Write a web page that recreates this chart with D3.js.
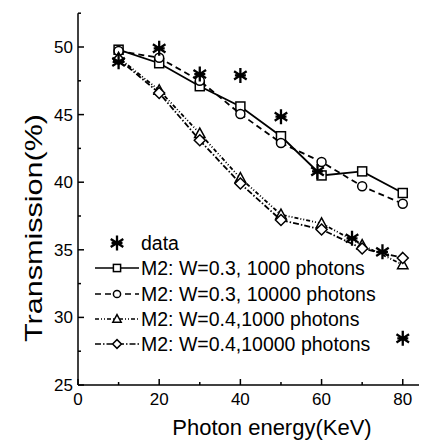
<!DOCTYPE html>
<html>
<head>
<meta charset="utf-8">
<script src="https://cdn.jsdelivr.net/npm/d3@7"></script>
<style>
  html, body { margin: 0; padding: 0; background: #fff; }
  svg { display: block; font-family: "Liberation Sans", Arial, sans-serif; }
</style>
</head>
<body>
<svg id="chart" width="423" height="442"></svg>
<script>
// Photon energies (KeV) for the simulated series
const energies = [10, 20, 30, 40, 50, 60, 70, 80];

// Simulated transmission (%) for each model setting
const w03_1000  = [49.8, 48.8, 47.1, 45.6, 43.4, 40.5, 40.8, 39.2];
const w03_10000 = [49.7, 49.2, 47.5, 45.05, 42.9, 41.5, 39.7, 38.4];
const w04_1000  = [49.2, 46.8, 43.6, 40.3, 37.6, 36.95, 35.35, 33.9];
const w04_10000 = [49.1, 46.6, 43.1, 39.9, 37.2, 36.5, 35.1, 34.4];

// Measured data points
const dataEnergy = [10, 20, 30, 40, 50, 59, 67.5, 75, 80];
const dataTrans  = [48.9, 49.9, 48.0, 47.9, 44.85, 40.8, 35.85, 34.85, 28.45];

// Axis ticks
const xTicks = [0, 20, 40, 60, 80];
const yTicks = [25, 30, 35, 40, 45, 50];

// Legend labels
const labels = [
  "data",
  "M2: W=0.3, 1000 photons",
  "M2: W=0.3, 10000 photons",
  "M2: W=0.4,1000 photons",
  "M2: W=0.4,10000 photons"
];

const svg = d3.select("#chart");
const x = d3.scaleLinear().domain([0, 84]).range([78, 419]);
const y = d3.scaleLinear().domain([25, 52.5]).range([385, 13.2]);

const series = [
  { values: w03_1000,  marker: "square",   dash: null },
  { values: w03_10000, marker: "circle",   dash: "6,4" },
  { values: w04_1000,  marker: "triangle", dash: "4,2,1,2,1,2" },
  { values: w04_10000, marker: "diamond",  dash: "6,2,1.5,2" }
];

// Marker shapes; k scales the size (legend markers are smaller)
function drawMarker(g, type, cx, cy, k = 1) {
  const s = 4.5 * k;
  let el;
  if (type === "square") {
    el = g.append("rect").attr("x", cx - s).attr("y", cy - s).attr("width", 2 * s).attr("height", 2 * s);
  } else if (type === "circle") {
    el = g.append("circle").attr("cx", cx).attr("cy", cy).attr("r", s);
  } else if (type === "triangle") {
    el = g.append("path").attr("d", `M${cx},${cy - 5.5 * k}L${cx + 5.2 * k},${cy + 4 * k}L${cx - 5.2 * k},${cy + 4 * k}Z`);
  } else if (type === "diamond") {
    el = g.append("path").attr("d", `M${cx},${cy - 5.5 * k}L${cx + 5.5 * k},${cy}L${cx},${cy + 5.5 * k}L${cx - 5.5 * k},${cy}Z`);
  } else if (type === "star") {
    const r = 7.5;
    let d = "";
    [90, 33, 147].forEach(a => {
      const rad = a * Math.PI / 180;
      const dx = r * Math.cos(rad), dy = r * Math.sin(rad);
      d += `M${cx - dx},${cy - dy}L${cx + dx},${cy + dy}`;
    });
    d += `M${cx - 5.5},${cy}L${cx + 5.5},${cy}`;
    return g.append("path").attr("d", d).attr("fill", "none").attr("stroke", "#000").attr("stroke-width", 2.3);
  }
  el.attr("fill", "#fff").attr("stroke", "#000").attr("stroke-width", 1.5);
  return el;
}

// Axes
const xAxis = svg.append("g").attr("transform", "translate(0,385)");
xAxis.append("line").attr("x1", 78).attr("x2", 419).attr("y1", 0).attr("y2", 0)
  .attr("stroke", "#000").attr("stroke-width", 1.5);
d3.range(0, 85, 10).forEach(v => {
  const major = v % 20 === 0;
  xAxis.append("line").attr("x1", x(v)).attr("x2", x(v)).attr("y1", 0).attr("y2", major ? -6 : -3)
    .attr("stroke", "#000").attr("stroke-width", 1.5);
});
xAxis.selectAll("text.tick").data(xTicks).join("text")
  .attr("x", d => x(d)).attr("y", 20)
  .attr("text-anchor", "middle").attr("font-size", 17).text(d => d);

const yAxis = svg.append("g").attr("transform", "translate(78,0)");
yAxis.append("line").attr("x1", 0).attr("x2", 0).attr("y1", y(25)).attr("y2", y(52.5))
  .attr("stroke", "#000").attr("stroke-width", 1.5);
d3.range(25, 52.6, 2.5).forEach(v => {
  const major = Math.abs(v % 5) < 1e-6;
  yAxis.append("line").attr("x1", 0).attr("x2", major ? 6 : 3).attr("y1", y(v)).attr("y2", y(v))
    .attr("stroke", "#000").attr("stroke-width", 1.5);
});
yAxis.selectAll("text.tick").data(yTicks).join("text")
  .attr("x", -5).attr("y", d => y(d) + 6)
  .attr("text-anchor", "end").attr("font-size", 17).text(d => d);

// Axis titles
svg.append("text").attr("x", 272).attr("y", 435).attr("text-anchor", "middle")
  .attr("font-size", 22).text("Photon energy(KeV)");
svg.append("text").attr("transform", "translate(42,228) rotate(-90)")
  .attr("text-anchor", "middle").attr("font-size", 24)
  .attr("textLength", 228).attr("lengthAdjust", "spacingAndGlyphs")
  .text("Transmission(%)");

// Series lines and markers
const line = d3.line().x(d => x(d[0])).y(d => y(d[1]));
series.forEach(s => {
  const pts = energies.map((e, i) => [e, s.values[i]]);
  svg.append("path").attr("d", line(pts)).attr("fill", "none")
    .attr("stroke", "#000").attr("stroke-width", 1.8)
    .attr("stroke-dasharray", s.dash);
  const g = svg.append("g");
  pts.forEach(p => drawMarker(g, s.marker, x(p[0]), y(p[1])));
});

// Measured data
const gd = svg.append("g");
dataEnergy.forEach((e, i) => drawMarker(gd, "star", x(e), y(dataTrans[i])));

// Legend
const legendRows = [243, 268, 294, 319, 344];
const legendTypes = ["star", "square", "circle", "triangle", "diamond"];
const legendDash = [null, null, "6,4", "4,2,1,2,1,2", "6,2,1.5,2"];
const lg = svg.append("g");
legendRows.forEach((ry, i) => {
  if (i > 0) {
    lg.append("line").attr("x1", 95).attr("x2", 139).attr("y1", ry).attr("y2", ry)
      .attr("stroke", "#000").attr("stroke-width", 1.5).attr("stroke-dasharray", legendDash[i]);
  }
  drawMarker(lg, legendTypes[i], 117, ry, 0.8);
  lg.append("text").attr("x", 141).attr("y", ry + 7).attr("font-size", 19.5).text(labels[i]);
});
</script>
</body>
</html>
